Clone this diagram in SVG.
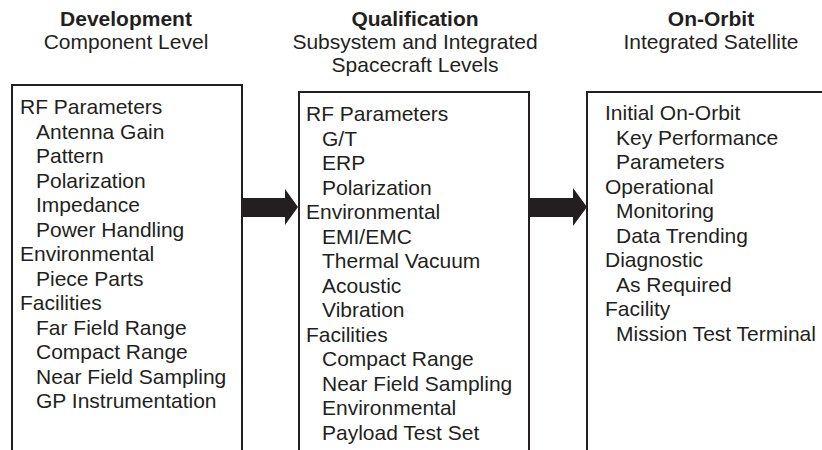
<svg xmlns="http://www.w3.org/2000/svg" width="822" height="450" viewBox="0 0 822 450">
<style>
text{font-family:"Liberation Sans",Arial,Helvetica,sans-serif;font-size:21px;fill:#231f20}
.h{font-weight:bold}
.c{text-anchor:middle}
.box{fill:none;stroke:#231f20;stroke-width:2}
.arr{fill:#231f20;stroke:none}
</style>
<rect width="822" height="450" fill="#fff"/>
<g id="header-development">
<text class="h c" x="126" y="26">Development</text>
<text class="c" x="126" y="49">Component Level</text>
</g>
<g id="header-qualification">
<text class="h c" x="415" y="26">Qualification</text>
<text class="c" x="415" y="49">Subsystem and Integrated</text>
<text class="c" x="415" y="72">Spacecraft Levels</text>
</g>
<g id="header-onorbit">
<text class="h c" x="711" y="26">On-Orbit</text>
<text class="c" x="711" y="49">Integrated Satellite</text>
</g>
<g id="node-development">
<path class="box" d="M12,452 V85 H242 V452"/>
<text x="20" y="114">RF Parameters</text>
<text x="36" y="138.5">Antenna Gain</text>
<text x="36" y="163">Pattern</text>
<text x="36" y="187.5">Polarization</text>
<text x="36" y="212">Impedance</text>
<text x="36" y="236.5">Power Handling</text>
<text x="20" y="261">Environmental</text>
<text x="36" y="285.5">Piece Parts</text>
<text x="20" y="310">Facilities</text>
<text x="36" y="334.5">Far Field Range</text>
<text x="36" y="359">Compact Range</text>
<text x="36" y="383.5">Near Field Sampling</text>
<text x="36" y="408">GP Instrumentation</text>
</g>
<g id="node-qualification">
<path class="box" d="M299,452 V92 H529 V452"/>
<text x="306" y="121">RF Parameters</text>
<text x="322" y="145.5">G/T</text>
<text x="322" y="170">ERP</text>
<text x="322" y="194.5">Polarization</text>
<text x="306" y="219">Environmental</text>
<text x="322" y="243.5">EMI/EMC</text>
<text x="322" y="268">Thermal Vacuum</text>
<text x="322" y="292.5">Acoustic</text>
<text x="322" y="317">Vibration</text>
<text x="306" y="341.5">Facilities</text>
<text x="322" y="366">Compact Range</text>
<text x="322" y="390.5">Near Field Sampling</text>
<text x="322" y="415">Environmental</text>
<text x="322" y="439.5">Payload Test Set</text>
</g>
<g id="node-onorbit">
<path class="box" d="M587,452 V92 H830"/>
<text x="605" y="120">Initial On-Orbit</text>
<text x="616" y="144.5">Key Performance</text>
<text x="616" y="169">Parameters</text>
<text x="605" y="193.5">Operational</text>
<text x="616" y="218">Monitoring</text>
<text x="616" y="242.5">Data Trending</text>
<text x="605" y="267">Diagnostic</text>
<text x="616" y="291.5">As Required</text>
<text x="605" y="316">Facility</text>
<text x="616" y="340.5">Mission Test Terminal</text>
</g>
<g id="connectors">
<path class="arr" d="M242,198 H285 V189 L298,207 L285,225 V217 H242 Z"/>
<path class="arr" d="M529,198 H573 V188 L587,207 L573,226 V217 H529 Z"/>
</g>
</svg>
